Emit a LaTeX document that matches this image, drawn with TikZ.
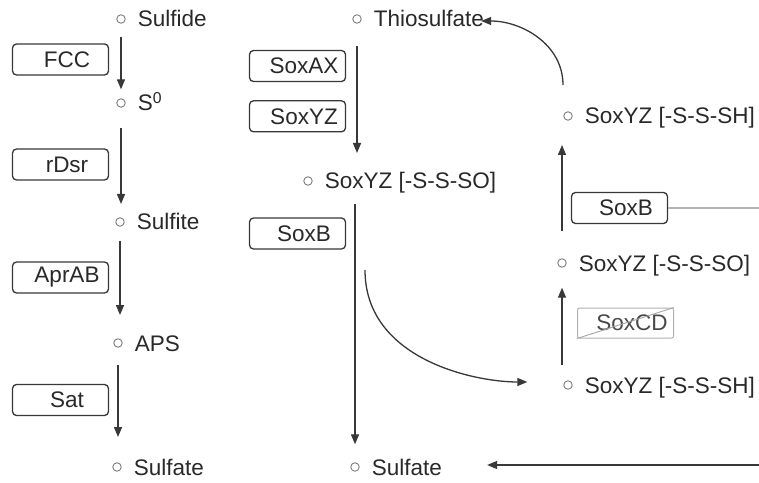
\documentclass[tikz,border=0pt]{standalone}
\usepackage{fontspec}
\setmainfont{Liberation Sans}
\usetikzlibrary{arrows.meta,positioning}
\definecolor{ink}{gray}{0.16}
\definecolor{wire}{gray}{0.22}
\tikzset{
  enzyme/.style={draw=wire, line width=1.3pt, rounded corners=4pt, minimum width=96pt, minimum height=31pt, inner sep=2pt, text=ink, execute at begin node={\hspace*{13pt}}},
  blocked/.style={draw=gray!60, line width=1pt, rounded corners=2pt, text=ink!85},
  strike/.style={draw=gray!70, line width=0.9pt},
  species/.style={circle, draw=ink!60, line width=0.9pt, inner sep=0pt, minimum size=8.5pt},
  chem/.style={text=ink, inner sep=2pt, label distance=10pt, text height=16pt, text depth=0pt},
  flow/.style={-{Triangle[length=10pt, width=8pt]}, line width=1.3pt, draw=wire},
  feed/.style={line width=1.2pt, draw=gray!60}
}
\begin{document}
\begin{tikzpicture}[x=1pt, y=1pt, font=\fontsize{22.5}{27}\selectfont]
  \path[fill=white, use as bounding box] (0,0) rectangle (759,482);

  % dissimilatory branch
  \node[species, label={[chem, name=sulfideT]right:Sulfide}] (sulfide) at (121,463) {};
  \node[species, label={[chem, name=szeroT]right:S\textsuperscript{0}}] (szero) at (121,379) {};
  \node[species, label={[chem, name=sulfiteT]right:Sulfite}] (sulfite) at (120,260) {};
  \node[species, label={[chem, name=apsT]right:APS}] (aps) at (118,139) {};
  \node[species, label={[chem, name=sulfLT]right:Sulfate}] (sulfL) at (117,15) {};

  \node[enzyme] (fcc) at (60.5,422.5) {FCC};
  \node[enzyme, execute at begin node={}] (rdsr) at (60.5,317.5) {rDsr};
  \node[enzyme] (aprab) at (60.5,204.5) {AprAB};
  \node[enzyme] (sat) at (60.5,82) {Sat};

  \draw[flow, shorten <=13pt, shorten >=9pt] (sulfide) -- (szero);
  \draw[flow, shorten <=20pt, shorten >=18pt] (szero) -- (szero |- sulfite);
  \draw[flow, shorten <=14pt, shorten >=28pt] (sulfite) -- (sulfite |- aps);
  \draw[flow, shorten <=17pt, shorten >=30pt] (aps) -- (aps |- sulfL);

  % Sox branch
  \node[species, label={[chem, name=thioT]right:Thiosulfate}] (thio) at (357,463) {};
  \node[species, label={[chem, name=ssoMT]right:SoxYZ [-S-S-SO]}] (ssoM) at (308,301) {};
  \node[species, label={[chem, name=sulfMT]right:Sulfate}] (sulfM) at (355,15) {};
  \node[species, label={[chem, name=sshTopT]right:SoxYZ [-S-S-SH]}] (sshTop) at (568,366) {};
  \node[species, label={[chem, name=ssoRT]right:SoxYZ [-S-S-SO]}] (ssoR) at (562,219) {};
  \node[species, label={[chem, name=sshBotT]right:SoxYZ [-S-S-SH]}] (sshBot) at (568,97) {};

  \node[enzyme] (soxax) at (297.5,416) {SoxAX};
  \node[enzyme, below=18pt of soxax] (soxyz) {SoxYZ};
  \node[enzyme] (soxbM) at (297.5,248.5) {SoxB};
  \node[enzyme] (soxbR) at (619.5,274) {SoxB};
  \node[enzyme, blocked, minimum height=30pt] (soxcd) at (625.5,159) {SoxCD};
  \draw[strike] (soxcd.south west) -- (soxcd.north east);

  \coordinate (split) at (365,212);
  \coordinate (edgeA) at (759,274);
  \coordinate (edgeB) at (759,17);

  \draw[flow, shorten <=22pt, shorten >=28pt] (thio) -- (thio |- ssoM);
  \draw[flow, shorten <=23pt, shorten >=18pt] (ssoM -| sulfM) -- (sulfM);
  \draw[flow, shorten >=36pt] (split) to[out=-90, in=180] ([yshift=3pt]sshBot.west);
  \draw[flow, shorten <=20pt, shorten >=20pt] (sshBot -| ssoR) -- (ssoR);
  \draw[flow, shorten <=27pt, shorten >=29pt] (ssoR) -- (ssoR |- sshTop);
  \draw[flow] ([shift={(-5,31)}]sshTop.center) to[out=90, in=0] ([xshift=-5pt, yshift=-2pt]thioT.east);

  \draw[feed] (soxbR) -- (edgeA);
  \draw[flow, shorten >=43pt] (edgeB) -- (edgeB -| sulfMT.east);
\end{tikzpicture}
\end{document}
